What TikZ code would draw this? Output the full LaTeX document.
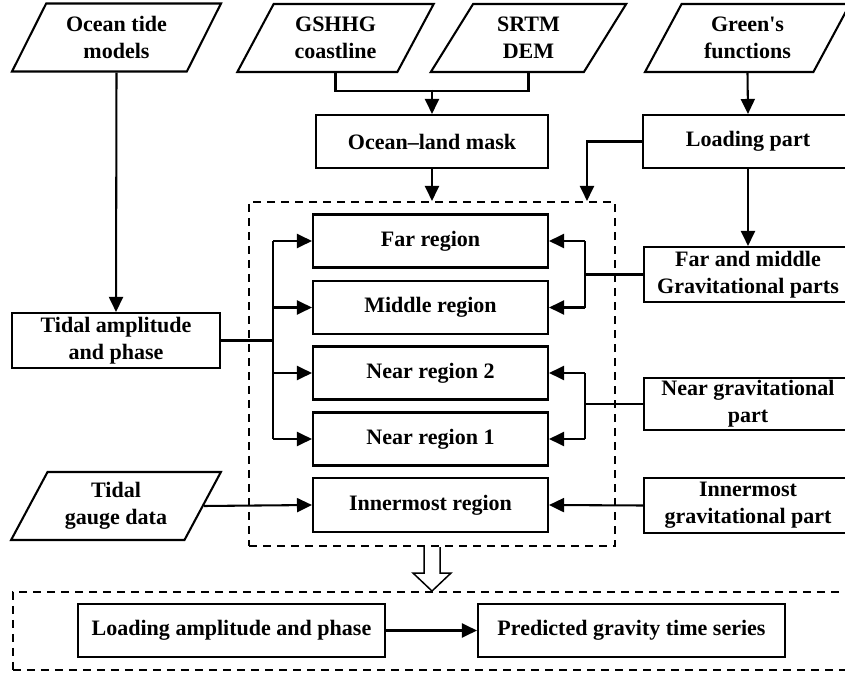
\documentclass[tikz,border=0pt]{standalone}
\usepackage{fontspec}
\setmainfont{Liberation Serif}
\usetikzlibrary{arrows.meta,shapes.geometric}

\begin{document}
\begin{tikzpicture}[x=0.3mm,y=-0.3mm,line width=0.62mm,
  font=\fontsize{18.8}{23}\selectfont\bfseries,
  box/.style={draw,rectangle,align=center,inner sep=0pt},
  data/.style={draw,trapezium,trapezium left angle=60,trapezium right angle=120,
    trapezium stretches=true,align=center,inner sep=0pt,
    minimum width=59mm,minimum height=20.4mm},
  region/.style={box,minimum width=70.5mm,minimum height=15.9mm},
  side/.style={box,minimum width=62.4mm,minimum height=16.5mm},
  zone/.style={draw,dash pattern=on 2.4mm off 1.8mm,inner sep=0pt},
  arr/.style={-{Triangle[length=4.5mm,width=4.2mm]}}]
  \useasboundingbox (0,0) rectangle (845,676);
  \clip (0,0) rectangle (845,676);

  % input data
  \node[data,minimum width=62.7mm] (tide) at (116.5,37.5) {Ocean tide\\models};
  \node[data] (gshhg) at (335.5,38) {GSHHG\\coastline};
  \node[data] (srtm) at (528.5,38) {SRTM\\DEM};
  \node[data,minimum width=61.5mm] (green) at (747.5,38) {Green{\textquotesingle}s\\functions};
  \node[data,minimum width=63mm] (gauge) at (116,506) {Tidal\\gauge data};

  \node[box,minimum width=69.6mm,minimum height=15.9mm] (mask) at (432,141.5) {Ocean--land mask};
  \node[box,minimum width=63mm,minimum height=15.9mm] (lpart) at (748,141.5) {Loading part};
  \node[side] (tamp) at (116,340.5) {Tidal amplitude\\and phase};

  % integration regions
  \node[zone,minimum width=109.8mm,minimum height=103.2mm] (calc) at (432,374) {};
  \node[region] (far) at (430.5,241) {Far region};
  \node[region] (middle) at (430.5,307.5) {Middle region};
  \node[region] (near2) at (430.5,373) {Near region 2};
  \node[region] (near1) at (430.5,439) {Near region 1};
  \node[region,minimum height=16.2mm] (inner) at (430.5,505) {Innermost region};

  % gravitational parts
  \node[side] (fmgrav) at (748,274.5) {Far and middle\\Gravitational parts};
  \node[side,minimum height=15.6mm] (ngrav) at (748,404) {Near gravitational\\part};
  \node[side] (igrav) at (748,505.5) {Innermost\\gravitational part};

  % output
  \node[zone,minimum width=257.1mm,minimum height=23.4mm] (result) at (441.5,631) {};
  \node[box,minimum width=92.1mm,minimum height=15.9mm] (lamp) at (231.5,630.5) {Loading amplitude and phase};
  \node[box,minimum width=92.1mm,minimum height=15.9mm] (pred) at (631.5,630.5) {Predicted gravity time series};

  \coordinate (lbus) at (273,0);
  \coordinate (rbus) at (585,0);
  \coordinate (drop) at (587,0);

  \draw[arr] (tide.south -| tide.center) -- (tamp.north);
  \draw (gshhg.south -| gshhg.center) -- ++(0,18) -| (srtm.south -| srtm.center);
  \draw[arr] (mask.north |- 0,90) -- (mask.north);
  \draw[arr] (mask.south) -- (mask.south |- calc.north);
  \draw[arr] (green.south -| green.center) -- (lpart.north);
  \draw[arr] (lpart.west) -| (drop |- calc.north);
  \draw[arr] (lpart.south) -- (fmgrav.north);

  \draw (tamp.east) -- (lbus |- tamp.east);
  \draw (lbus |- far.west) -- (lbus |- near1.west);
  \foreach \r in {far,middle,near2,near1}
    \draw[arr] (lbus |- \r.west) -- (\r.west);

  \draw (fmgrav.west) -- (rbus |- fmgrav.west);
  \draw (rbus |- far.east) -- (rbus |- middle.east);
  \draw[arr] (rbus |- far.east) -- (far.east);
  \draw[arr] (rbus |- middle.east) -- (middle.east);
  \draw (ngrav.west) -- (rbus |- ngrav.west);
  \draw (rbus |- near2.east) -- (rbus |- near1.east);
  \draw[arr] (rbus |- near2.east) -- (near2.east);
  \draw[arr] (rbus |- near1.east) -- (near1.east);

  \draw[arr] (gauge.east) -- (inner.west);
  \draw[arr] (igrav.west) -- (inner.east);
  \draw[arr] (lamp.east) -- (pred.west);

  % hollow arrow
  \draw[line width=0.45mm,fill=white] (calc.south) ++(-8,0) -- ++(0,26) -- ++(-11,0)
    -- ++(19,18) -- ++(19,-18) -- ++(-11,0) -- ++(0,-26);
\end{tikzpicture}
\end{document}
